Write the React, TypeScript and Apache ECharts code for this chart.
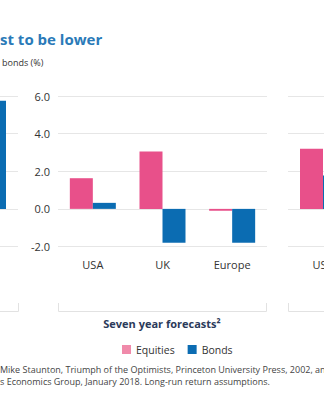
import React, { useEffect, useRef } from "react";
import * as echarts from "echarts";

const seriesNames = ["Equities", "Bonds"];
const leftCategories = [""];
const leftEquities: (number | null)[] = [null];
const leftBonds = [5.75];
const midCategories = ["USA", "UK", "Europe"];
const midEquities = [1.63, 3.05, -0.1];
const midBonds = [0.32, -1.8, -1.8];
const rightCategories = ["USA"];
const rightEquities = [3.2];
const rightBonds = [1.77];
const yTicks = { min: -2, max: 6, interval: 2 };

const PINK = "#e8508a";
const BLUE = "#0b6cb2";
const FONT = "'Open Sans', 'Noto Sans', sans-serif";

export default function App() {
  const ref = useRef<HTMLDivElement>(null);
  useEffect(() => {
    document.body.style.margin = "0";
    const chart = echarts.init(ref.current!, null, { renderer: "svg" });
    const grids = [
      { left: -52, width: 70, top: 96, height: 150.5, outerBoundsMode: "none", containLabel: false },
      { left: 58, width: 209, top: 96, height: 150.5, outerBoundsMode: "none", containLabel: false },
      { left: 288, width: 70, top: 96, height: 150.5, outerBoundsMode: "none", containLabel: false },
    ];
    const cats = [leftCategories, midCategories, rightCategories];
    const eq = [leftEquities, midEquities, rightEquities];
    const bd = [leftBonds, midBonds, rightBonds];
    const xAxis = cats.map((c, i) => ({
      type: "category",
      gridIndex: i,
      data: c,
      axisLine: { show: false },
      axisTick: { show: false },
      axisLabel: {
        show: i !== 0,
        color: "#333",
        fontSize: 11,
        fontFamily: FONT,
        margin: 12,
      },
    }));
    const yAxis = cats.map((_, i) => ({
      type: "value",
      gridIndex: i,
      min: yTicks.min,
      max: yTicks.max,
      interval: yTicks.interval,
      axisLine: { show: false },
      axisTick: { show: false },
      splitLine: { lineStyle: { color: "#e6e6e6", width: 1 } },
      axisLabel: {
        show: i === 1,
        color: "#333",
        fontSize: 11,
        fontFamily: FONT,
        margin: 8,
        formatter: (v: number) => v.toFixed(1),
      },
    }));
    const series: any[] = [];
    for (let i = 0; i < 3; i++) {
      series.push({
        type: "bar",
        name: seriesNames[0],
        xAxisIndex: i,
        yAxisIndex: i,
        data: eq[i],
        barWidth: 23,
        barGap: "0%",
        itemStyle: { color: PINK },
      });
      series.push({
        type: "bar",
        name: seriesNames[1],
        xAxisIndex: i,
        yAxisIndex: i,
        data: bd[i],
        barWidth: 23,
        barGap: "0%",
        itemStyle: { color: BLUE },
      });
    }
    const bracketStyle = { stroke: "#e2e2e2", lineWidth: 1, fill: "none" };
    chart.setOption({
      animation: false,
      textStyle: { fontFamily: FONT },
      grid: grids,
      xAxis,
      yAxis,
      series,
      legend: {
        data: [
          { name: seriesNames[0], itemStyle: { color: "#f08aaa" } },
          { name: seriesNames[1], itemStyle: { color: BLUE } },
        ],
        left: 117,
        top: 339,
        itemWidth: 9,
        itemHeight: 9,
        itemGap: 13,
        icon: "rect",
        textStyle: { color: "#333", fontSize: 10.5, fontFamily: FONT },
      },
      graphic: [
        {
          type: "text",
          left: 0,
          top: 31,
          style: {
            text: "st to be lower",
            fill: "#2a7ab8",
            font: `bold 15px ${FONT}`,
          },
        },
        {
          type: "text",
          left: 2,
          top: 58,
          style: {
            text: "bonds (%)",
            fill: "#333",
            font: `9px ${FONT}`,
          },
        },
        {
          type: "polyline",
          shape: { points: [[0, 311.5], [18.5, 311.5], [18.5, 303]] },
          style: bracketStyle,
        },
        {
          type: "polyline",
          shape: { points: [[58.5, 303], [58.5, 311.5], [266.5, 311.5], [266.5, 303]] },
          style: bracketStyle,
        },
        {
          type: "polyline",
          shape: { points: [[288.5, 303], [288.5, 311.5], [324, 311.5]] },
          style: bracketStyle,
        },
        {
          type: "text",
          x: 162,
          y: 323,
          style: {
            text: "Seven year forecasts²",
            fill: "#2b3a5a",
            font: `bold 11px ${FONT}`,
            align: "center",
            verticalAlign: "middle",
          },
        },
        {
          type: "text",
          left: 0,
          top: 363,
          style: {
            text:
              "Mike Staunton, Triumph of the Optimists, Princeton University Press, 2002, an\ns Economics Group, January 2018. Long-run return assumptions.",
            fill: "#444",
            font: `9px ${FONT}`,
            lineHeight: 12,
          },
        },
      ],
    });
    return () => chart.dispose();
  }, []);
  return <div ref={ref} style={{ width: 324, height: 400 }} />;
}
